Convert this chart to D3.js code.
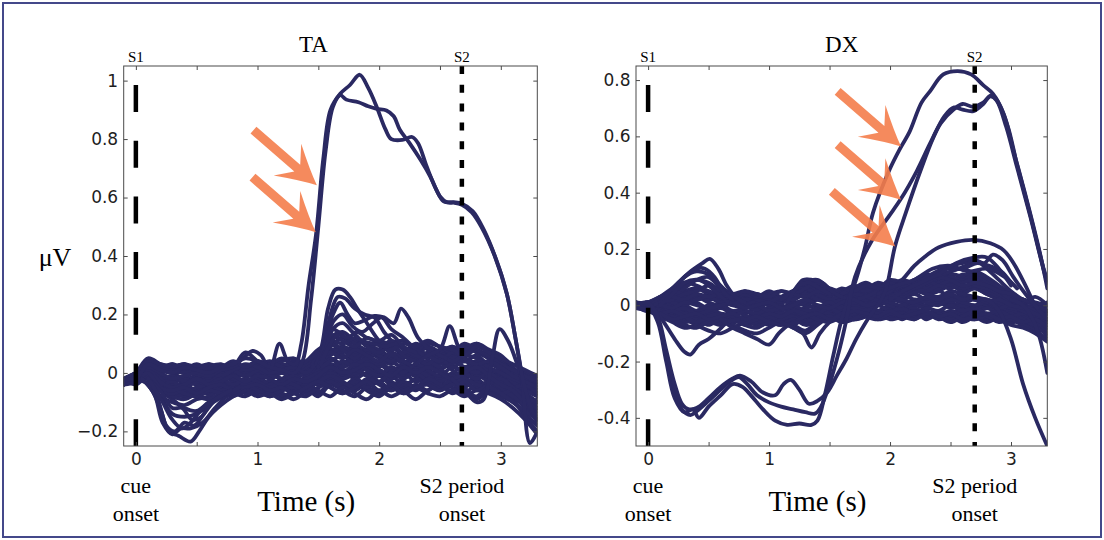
<!DOCTYPE html>
<html>
<head>
<meta charset="utf-8">
<script src="https://cdn.jsdelivr.net/npm/d3@7"></script>
<style>
  html, body { margin: 0; padding: 0; background: #fff; }
  svg { display: block; }
</style>
</head>
<body>
<svg id="fig" width="1104" height="540"></svg>
<script>
// ---------------------------------------------------------------
// Data: single-trial EMG-like traces (µV) against time (s)
// ---------------------------------------------------------------
const timeGrid = [-0.1, 0.0, 0.1, 0.2, 0.3, 0.4, 0.5, 0.6, 0.7, 0.8, 0.9, 1.0, 1.1, 1.2, 1.3, 1.4, 1.5,
  1.6, 1.7, 1.8, 1.9, 2.0, 2.1, 2.2, 2.3, 2.4, 2.5, 2.6, 2.7, 2.8, 2.9, 3.0, 3.1, 3.2, 3.3];

const cueOnset = 0;
const taS2Onset = 2.68;
const dxS2Onset = 2.70;

const xTickValues = [0, 0.5, 1, 1.5, 2, 2.5, 3];
const taYTicks = [-0.2, 0, 0.2, 0.4, 0.6, 0.8, 1];
const dxYTicks = [-0.4, -0.2, 0, 0.2, 0.4, 0.6, 0.8];

// TA: low-amplitude trials sampled on timeGrid
const taBackground = [
  [-0.03, -0.01, 0.04, 0.02, 0.03, 0.01, 0.02, 0.00, 0.01, 0.02, 0.00, -0.01, 0.02, 0.03, 0.01, 0.04, 0.08, 0.10, 0.07, 0.09, 0.06, 0.08, 0.05, 0.07, 0.04, 0.06, 0.03, 0.05, 0.02, 0.04, 0.01, -0.02, -0.05, -0.08, -0.10],
  [-0.02, -0.03, 0.02, -0.02, -0.04, -0.06, -0.05, -0.03, -0.05, -0.04, -0.06, -0.03, -0.05, -0.02, -0.04, -0.01, 0.02, 0.05, 0.03, 0.06, 0.02, 0.04, 0.01, 0.03, 0.06, 0.02, 0.04, 0.01, -0.02, 0.01, -0.03, -0.01, -0.04, -0.06, -0.05],
  [-0.04, -0.02, 0.01, -0.05, -0.07, -0.08, -0.06, -0.07, -0.05, -0.06, -0.04, -0.05, -0.07, -0.04, -0.06, -0.03, 0.00, 0.03, 0.01, -0.02, 0.00, -0.03, -0.01, -0.04, -0.02, 0.00, -0.03, -0.01, -0.04, -0.02, -0.05, -0.03, -0.07, -0.12, -0.15],
  [-0.03, 0.00, 0.05, 0.03, 0.01, 0.02, 0.00, 0.02, 0.03, 0.01, 0.02, 0.03, 0.00, 0.02, 0.04, 0.02, 0.05, 0.12, 0.14, 0.11, 0.10, 0.08, 0.09, 0.06, 0.07, 0.05, 0.08, 0.06, 0.09, 0.07, 0.05, 0.02, -0.01, -0.03, -0.06],
  [-0.02, -0.04, -0.01, -0.08, -0.10, -0.11, -0.09, -0.08, -0.06, -0.07, -0.05, -0.06, -0.04, -0.06, -0.03, -0.05, -0.02, 0.01, -0.01, 0.02, -0.01, 0.01, -0.02, 0.00, -0.03, -0.01, 0.01, -0.02, 0.00, -0.02, 0.01, -0.02, -0.06, -0.09, -0.13],
  [-0.03, -0.01, 0.03, 0.00, -0.02, -0.01, -0.03, -0.01, -0.02, 0.00, -0.01, 0.01, -0.02, 0.00, -0.01, 0.01, 0.04, 0.08, 0.06, 0.04, 0.07, 0.05, 0.03, 0.06, 0.04, 0.07, 0.05, 0.08, 0.04, 0.06, 0.03, 0.05, 0.00, -0.04, -0.07],
  [-0.02, -0.02, 0.00, -0.04, -0.05, -0.03, -0.04, -0.05, -0.03, -0.04, -0.02, -0.04, -0.03, -0.05, -0.02, -0.04, 0.00, -0.02, 0.01, -0.01, 0.02, 0.00, -0.02, 0.01, -0.01, 0.02, 0.00, -0.03, -0.01, 0.01, -0.02, 0.00, -0.03, -0.05, -0.08],
  [-0.04, -0.01, 0.04, 0.01, 0.02, 0.03, 0.01, 0.02, 0.00, 0.02, 0.07, 0.04, 0.01, 0.02, 0.00, 0.03, 0.06, 0.09, 0.12, 0.10, 0.08, 0.11, 0.09, 0.07, 0.10, 0.08, 0.06, 0.09, 0.07, 0.10, 0.08, 0.06, 0.02, -0.02, -0.04],
  [-0.03, -0.03, -0.02, -0.06, -0.09, -0.12, -0.13, -0.10, -0.08, -0.07, -0.08, -0.06, -0.08, -0.07, -0.09, -0.06, -0.03, -0.05, -0.07, -0.04, -0.06, -0.08, -0.05, -0.07, -0.04, -0.06, -0.03, -0.05, -0.07, -0.04, -0.06, -0.08, -0.10, -0.14, -0.18],
  [-0.02, 0.00, 0.03, 0.01, 0.00, -0.02, -0.01, 0.01, 0.00, -0.01, 0.01, 0.00, 0.02, 0.01, 0.03, 0.01, 0.03, 0.05, 0.02, 0.04, 0.01, 0.03, 0.00, 0.02, -0.01, 0.01, -0.02, 0.00, 0.02, -0.01, 0.01, -0.03, -0.02, -0.05, -0.04],
  [-0.03, -0.02, 0.02, -0.03, -0.06, -0.04, -0.06, -0.04, -0.06, -0.03, -0.05, -0.07, -0.05, -0.08, -0.06, -0.04, -0.07, -0.03, -0.05, -0.02, -0.04, -0.01, -0.03, -0.05, -0.02, -0.04, -0.06, -0.03, -0.05, -0.09, -0.06, -0.04, -0.08, -0.11, -0.09],
  [-0.03, 0.00, 0.04, 0.02, 0.00, 0.01, 0.03, 0.01, 0.02, 0.00, 0.01, 0.02, 0.01, 0.03, 0.02, 0.00, 0.03, 0.15, 0.13, 0.08, 0.05, 0.07, 0.04, 0.02, 0.05, 0.03, 0.01, 0.04, 0.02, 0.00, 0.03, 0.01, -0.02, -0.05, -0.03],
  [-0.02, -0.03, 0.01, -0.02, -0.03, -0.05, -0.02, -0.04, -0.01, -0.03, -0.05, -0.02, -0.04, -0.06, -0.03, -0.05, -0.08, -0.04, -0.06, -0.08, -0.05, -0.07, -0.04, -0.06, -0.09, -0.06, -0.04, -0.07, -0.05, -0.03, -0.06, -0.04, -0.07, -0.10, -0.12],
  [-0.04, -0.01, 0.03, 0.00, 0.02, 0.00, 0.02, -0.01, 0.01, -0.01, 0.00, -0.02, 0.00, -0.02, 0.01, -0.01, 0.02, 0.07, 0.09, 0.07, 0.05, 0.08, 0.11, 0.08, 0.06, 0.09, 0.07, 0.05, 0.08, 0.10, 0.07, 0.04, 0.00, -0.02, -0.01],
  [-0.03, -0.02, 0.02, -0.01, -0.02, -0.03, -0.01, -0.02, 0.00, -0.02, 0.00, 0.01, -0.01, 0.00, -0.02, 0.00, -0.01, 0.01, 0.04, 0.02, 0.04, 0.02, 0.05, 0.03, 0.01, 0.03, 0.05, 0.02, 0.04, 0.02, 0.00, -0.01, -0.04, -0.03, -0.06],
  [-0.02, -0.03, -0.01, -0.05, -0.08, -0.09, -0.07, -0.05, -0.06, -0.04, -0.06, -0.05, -0.03, -0.05, -0.07, -0.08, -0.05, -0.02, -0.04, -0.06, -0.03, -0.01, -0.04, -0.02, 0.00, -0.03, -0.05, -0.02, -0.04, -0.01, -0.03, -0.06, -0.09, -0.15, -0.20],
  [-0.03, -0.01, 0.02, 0.03, 0.02, 0.03, 0.02, 0.03, 0.01, 0.03, 0.02, 0.04, 0.02, 0.04, 0.05, 0.03, 0.05, 0.06, 0.09, 0.06, 0.08, 0.06, 0.04, 0.06, 0.08, 0.05, 0.07, 0.09, 0.06, 0.08, 0.05, 0.03, 0.01, 0.00, -0.02],
  [-0.02, -0.02, 0.00, -0.03, -0.04, -0.06, -0.08, -0.06, -0.04, -0.05, -0.03, -0.04, -0.06, -0.04, -0.02, -0.04, -0.02, 0.00, -0.02, 0.00, 0.02, -0.01, 0.01, -0.01, 0.01, 0.03, 0.01, -0.01, 0.01, 0.03, 0.00, -0.02, -0.05, -0.07, -0.10],
  [-0.03, 0.00, 0.03, -0.01, -0.03, -0.02, -0.04, -0.02, -0.03, -0.05, -0.03, -0.02, -0.04, -0.03, -0.01, -0.03, 0.01, 0.04, 0.06, 0.03, 0.05, 0.03, 0.06, 0.04, 0.02, 0.04, 0.02, 0.03, 0.05, 0.03, 0.01, 0.00, -0.03, -0.06, -0.08],
  [-0.02, -0.01, 0.01, -0.04, -0.06, -0.07, -0.05, -0.04, -0.06, -0.05, -0.07, -0.06, -0.04, -0.03, -0.05, -0.02, -0.04, 0.00, -0.02, 0.01, -0.01, -0.03, 0.00, -0.02, 0.01, -0.01, -0.03, -0.01, -0.03, -0.05, -0.03, -0.05, -0.08, -0.11, -0.14],
  [-0.04, -0.02, 0.03, 0.02, 0.00, 0.01, -0.01, 0.00, 0.02, 0.01, -0.01, 0.01, 0.03, 0.01, 0.00, 0.02, 0.05, 0.10, 0.08, 0.05, 0.08, 0.06, 0.04, 0.07, 0.05, 0.03, 0.06, 0.04, 0.06, 0.05, 0.02, 0.00, -0.02, -0.04, -0.07],
  [-0.03, -0.03, -0.01, -0.06, -0.07, -0.06, -0.08, -0.09, -0.07, -0.06, -0.04, -0.06, -0.08, -0.06, -0.05, -0.07, -0.05, -0.03, -0.05, -0.03, -0.05, -0.03, -0.06, -0.04, -0.06, -0.03, -0.05, -0.04, -0.02, -0.04, -0.05, -0.07, -0.06, -0.09, -0.11],
  [-0.02, 0.00, 0.02, 0.01, 0.03, 0.01, 0.00, 0.02, 0.01, 0.03, 0.01, 0.02, 0.04, 0.02, 0.01, 0.03, 0.06, 0.11, 0.10, 0.12, 0.09, 0.07, 0.10, 0.11, 0.08, 0.10, 0.09, 0.07, 0.10, 0.08, 0.06, 0.03, 0.01, -0.01, -0.03],
  [-0.03, -0.02, 0.00, -0.02, -0.01, -0.03, -0.02, -0.03, -0.01, -0.02, -0.04, -0.03, -0.01, -0.02, -0.04, -0.02, 0.00, 0.02, 0.00, 0.03, 0.01, -0.01, 0.02, 0.00, 0.03, 0.01, -0.01, 0.02, 0.00, -0.02, 0.00, -0.03, -0.05, -0.04, -0.07],
  [-0.04, -0.01, 0.02, -0.02, -0.05, -0.07, -0.08, -0.06, -0.07, -0.08, -0.06, -0.08, -0.07, -0.09, -0.07, -0.05, -0.06, -0.08, -0.05, -0.07, -0.09, -0.06, -0.08, -0.06, -0.05, -0.07, -0.08, -0.06, -0.08, -0.06, -0.07, -0.09, -0.12, -0.16, -0.21],
  [-0.02, -0.01, 0.03, 0.02, 0.01, 0.00, 0.01, 0.00, -0.01, 0.01, 0.03, 0.02, 0.00, 0.01, 0.02, 0.00, 0.04, 0.07, 0.05, 0.08, 0.06, 0.04, 0.07, 0.05, 0.08, 0.06, 0.04, 0.07, 0.05, 0.03, 0.04, 0.02, -0.01, -0.03, -0.05],
  [-0.03, -0.02, -0.01, -0.04, -0.03, -0.05, -0.03, -0.04, -0.02, -0.04, -0.02, -0.03, -0.05, -0.03, -0.04, -0.06, -0.03, -0.01, -0.03, -0.05, -0.02, -0.04, -0.06, -0.03, -0.05, -0.02, -0.04, -0.06, -0.03, -0.06, -0.04, -0.02, -0.05, -0.08, -0.10],
  [-0.02, 0.00, 0.04, 0.03, 0.02, 0.03, 0.01, 0.03, 0.02, 0.04, 0.02, 0.04, 0.03, 0.05, 0.03, 0.04, 0.07, 0.13, 0.11, 0.09, 0.12, 0.10, 0.08, 0.10, 0.09, 0.11, 0.09, 0.08, 0.06, 0.09, 0.07, 0.05, 0.03, 0.01, -0.01],
  [-0.03, -0.02, 0.01, -0.03, -0.05, -0.04, -0.02, -0.04, -0.03, -0.01, -0.03, -0.01, -0.02, -0.04, -0.02, -0.03, -0.01, 0.02, 0.00, 0.01, 0.03, 0.01, -0.01, 0.02, 0.00, 0.02, 0.00, -0.02, 0.00, 0.02, -0.01, -0.04, -0.06, -0.10, -0.12],
  [-0.04, -0.03, 0.00, -0.05, -0.06, -0.05, -0.07, -0.05, -0.04, -0.06, -0.05, -0.04, -0.06, -0.05, -0.07, -0.05, -0.03, -0.05, -0.07, -0.05, -0.03, -0.06, -0.04, -0.07, -0.05, -0.04, -0.06, -0.04, -0.06, -0.08, -0.05, -0.07, -0.10, -0.13, -0.16]
];

// TA: early negative deflections, [time, µV]
const taEarlyDips = [
  [[0.0, -0.02], [0.1, -0.04], [0.2, -0.12], [0.27, -0.2], [0.35, -0.215], [0.45, -0.235], [0.52, -0.2], [0.6, -0.15], [0.7, -0.11], [0.8, -0.08], [0.9, -0.06]],
  [[0.05, -0.02], [0.15, -0.07], [0.22, -0.17], [0.3, -0.21], [0.37, -0.19], [0.45, -0.19], [0.55, -0.17], [0.65, -0.12], [0.75, -0.08], [0.85, -0.06]],
  [[0.08, -0.03], [0.18, -0.09], [0.25, -0.18], [0.32, -0.2], [0.4, -0.17], [0.48, -0.18], [0.56, -0.14], [0.66, -0.09], [0.8, -0.06]],
  [[0.1, -0.03], [0.2, -0.08], [0.3, -0.14], [0.4, -0.15], [0.5, -0.14], [0.6, -0.11], [0.72, -0.08], [0.85, -0.05]],
  [[0.1, -0.02], [0.2, -0.06], [0.3, -0.12], [0.38, -0.12], [0.46, -0.16], [0.54, -0.15], [0.62, -0.1], [0.75, -0.07]],
  [[0.12, -0.03], [0.22, -0.1], [0.3, -0.16], [0.38, -0.19], [0.45, -0.17], [0.55, -0.12], [0.65, -0.09], [0.78, -0.06]]
];

// TA: moderate responses after 1.5 s, [time, µV]
const taModerate = [
  [[1.45, 0.03], [1.52, 0.08], [1.58, 0.22], [1.64, 0.285], [1.7, 0.285], [1.76, 0.26], [1.82, 0.22], [1.9, 0.17], [1.98, 0.12], [2.06, 0.08], [2.15, 0.05], [2.25, 0.03]],
  [[1.45, 0.02], [1.53, 0.06], [1.6, 0.2], [1.66, 0.26], [1.72, 0.255], [1.8, 0.22], [1.88, 0.2], [1.96, 0.19], [2.04, 0.14], [2.12, 0.10], [2.2, 0.06], [2.3, 0.04]],
  [[1.48, 0.03], [1.55, 0.1], [1.62, 0.2], [1.68, 0.24], [1.74, 0.2], [1.8, 0.17], [1.88, 0.18], [1.96, 0.195], [2.04, 0.19], [2.12, 0.17], [2.18, 0.22], [2.24, 0.19], [2.32, 0.12], [2.42, 0.08], [2.55, 0.05]],
  [[1.5, 0.02], [1.57, 0.12], [1.63, 0.18], [1.7, 0.2], [1.78, 0.16], [1.86, 0.14], [1.95, 0.17], [2.02, 0.19], [2.1, 0.15], [2.2, 0.12], [2.3, 0.08], [2.4, 0.05]],
  [[1.5, 0.02], [1.56, 0.08], [1.62, 0.15], [1.7, 0.17], [1.78, 0.14], [1.86, 0.11], [1.95, 0.1], [2.05, 0.09], [2.15, 0.1], [2.25, 0.07], [2.35, 0.05]],
  [[1.52, 0.03], [1.6, 0.1], [1.66, 0.13], [1.74, 0.12], [1.82, 0.14], [1.9, 0.12], [2.0, 0.11], [2.1, 0.13], [2.2, 0.09], [2.3, 0.07]],
  [[2.3, 0.03], [2.4, 0.06], [2.5, 0.08], [2.58, 0.16], [2.65, 0.09], [2.72, 0.04], [2.8, 0.03]],
  [[2.6, -0.02], [2.7, -0.06], [2.8, -0.1], [2.86, -0.09], [2.93, 0.05], [2.99, 0.15], [3.06, 0.11], [3.15, 0.01], [3.22, -0.1], [3.3, -0.17]]
];

// TA: the two large responses, [time, µV]
const taLarge = [
  [[-0.1, -0.03], [0.0, -0.01], [0.1, 0.02], [0.2, 0.00], [0.3, -0.02], [0.4, -0.01], [0.5, 0.00], [0.6, -0.01],
   [0.7, 0.01], [0.8, 0.02], [0.88, 0.05], [0.96, 0.075], [1.03, 0.06], [1.1, 0.01], [1.18, 0.1], [1.25, 0.04],
   [1.31, 0.03], [1.36, 0.1], [1.42, 0.3], [1.48, 0.47], [1.54, 0.73], [1.6, 0.9], [1.68, 0.955], [1.76, 0.985],
   [1.84, 1.02], [1.91, 0.975], [1.98, 0.91], [2.05, 0.835], [2.1, 0.80], [2.19, 0.797], [2.27, 0.807], [2.32, 0.786],
   [2.39, 0.707], [2.47, 0.627], [2.53, 0.587], [2.61, 0.584], [2.68, 0.579], [2.77, 0.553], [2.86, 0.49], [2.96, 0.39],
   [3.05, 0.27], [3.12, 0.12], [3.17, 0.0], [3.24, -0.24], [3.3, -0.2]],
  [[-0.1, -0.02], [0.0, -0.02], [0.1, 0.03], [0.2, 0.01], [0.3, 0.00], [0.4, 0.02], [0.5, 0.01], [0.6, 0.00],
   [0.7, 0.02], [0.8, 0.03], [0.9, 0.05], [1.0, 0.04], [1.1, 0.02], [1.2, 0.01], [1.3, 0.00], [1.37, 0.04],
   [1.44, 0.25], [1.5, 0.5], [1.56, 0.76], [1.62, 0.91], [1.68, 0.95], [1.73, 0.935], [1.83, 0.926], [1.91, 0.912],
   [1.98, 0.903], [2.06, 0.898], [2.12, 0.878], [2.17, 0.832], [2.25, 0.786], [2.34, 0.729], [2.42, 0.672], [2.5, 0.604],
   [2.56, 0.583], [2.62, 0.582], [2.68, 0.575], [2.76, 0.55], [2.84, 0.5], [2.95, 0.40], [3.05, 0.27], [3.12, 0.12],
   [3.18, -0.02], [3.25, -0.12], [3.3, -0.16]]
];

// DX: low-amplitude trials sampled on timeGrid
const dxBackground = [
  [0.00, -0.02, 0.03, 0.02, 0.04, 0.02, 0.03, 0.01, 0.03, 0.02, 0.00, 0.02, 0.01, 0.03, 0.05, 0.03, 0.01, 0.03, 0.05, 0.07, 0.05, 0.08, 0.06, 0.09, 0.07, 0.10, 0.08, 0.11, 0.09, 0.07, 0.05, 0.02, -0.01, -0.03, -0.02],
  [0.01, -0.01, -0.03, -0.05, -0.04, -0.06, -0.05, -0.03, -0.05, -0.04, -0.06, -0.04, -0.05, -0.03, -0.05, -0.04, -0.02, -0.04, -0.02, 0.00, -0.02, -0.01, -0.03, -0.02, -0.04, -0.02, -0.03, -0.01, -0.03, -0.05, -0.03, -0.05, -0.07, -0.09, -0.08],
  [-0.01, 0.01, 0.02, 0.04, 0.07, 0.09, 0.08, 0.05, 0.03, 0.02, 0.01, 0.03, 0.02, 0.04, 0.07, 0.06, 0.03, 0.02, 0.04, 0.03, 0.05, 0.04, 0.06, 0.05, 0.07, 0.09, 0.08, 0.10, 0.12, 0.10, 0.07, 0.04, 0.01, -0.02, -0.05],
  [0.00, -0.02, -0.04, -0.06, -0.08, -0.07, -0.05, -0.06, -0.04, -0.05, -0.07, -0.05, -0.06, -0.04, -0.06, -0.05, -0.03, -0.05, -0.04, -0.03, -0.05, -0.04, -0.02, -0.04, -0.03, -0.05, -0.04, -0.06, -0.04, -0.03, -0.05, -0.04, -0.06, -0.08, -0.10],
  [0.01, 0.00, 0.01, 0.03, 0.05, 0.06, 0.04, 0.02, 0.01, 0.03, 0.02, 0.00, 0.02, 0.04, 0.08, 0.09, 0.06, 0.05, 0.07, 0.06, 0.08, 0.07, 0.09, 0.08, 0.10, 0.09, 0.11, 0.10, 0.08, 0.06, 0.04, 0.02, 0.00, -0.01, 0.01],
  [-0.01, -0.01, -0.02, -0.03, -0.05, -0.07, -0.09, -0.10, -0.08, -0.06, -0.04, -0.06, -0.05, -0.07, -0.09, -0.06, -0.04, -0.02, -0.03, -0.01, -0.02, 0.00, -0.01, 0.01, 0.00, 0.02, 0.00, 0.01, -0.01, 0.00, -0.02, -0.04, -0.06, -0.05, -0.07],
  [0.00, 0.01, 0.00, 0.01, 0.03, 0.02, 0.04, 0.02, 0.00, 0.01, 0.02, 0.01, 0.03, 0.01, 0.02, 0.04, 0.06, 0.04, 0.02, 0.04, 0.03, 0.05, 0.03, 0.06, 0.04, 0.05, 0.07, 0.05, 0.06, 0.04, 0.02, 0.00, -0.02, -0.01, -0.03],
  [0.01, -0.02, -0.01, -0.02, -0.01, -0.03, -0.02, -0.04, -0.02, -0.03, -0.01, -0.03, -0.02, -0.01, -0.03, -0.02, 0.00, -0.02, 0.00, 0.02, 0.01, 0.03, 0.02, 0.04, 0.02, 0.03, 0.01, 0.03, 0.02, 0.00, 0.01, -0.01, -0.03, -0.05, -0.04],
  [0.00, 0.00, 0.02, 0.05, 0.10, 0.12, 0.11, 0.07, 0.03, 0.01, 0.02, 0.00, 0.01, 0.02, 0.05, 0.07, 0.05, 0.03, 0.05, 0.04, 0.06, 0.08, 0.07, 0.09, 0.11, 0.10, 0.12, 0.13, 0.11, 0.08, 0.06, 0.03, 0.00, -0.02, -0.03],
  [-0.01, 0.01, -0.02, -0.04, -0.06, -0.04, -0.03, -0.05, -0.07, -0.09, -0.10, -0.08, -0.06, -0.08, -0.10, -0.07, -0.04, -0.03, -0.05, -0.04, -0.02, -0.04, -0.03, -0.05, -0.03, -0.04, -0.02, -0.04, -0.05, -0.03, -0.04, -0.06, -0.04, -0.07, -0.06],
  [0.00, -0.01, 0.01, 0.00, 0.02, 0.01, -0.01, 0.01, 0.00, -0.01, 0.01, 0.00, -0.01, 0.01, 0.00, 0.02, 0.01, 0.00, 0.02, 0.01, 0.03, 0.01, 0.04, 0.02, 0.03, 0.05, 0.03, 0.04, 0.06, 0.04, 0.02, 0.00, -0.03, -0.06, -0.11],
  [0.01, 0.00, -0.01, -0.03, -0.02, -0.04, -0.03, -0.01, -0.03, -0.02, -0.04, -0.02, -0.03, -0.05, -0.03, -0.01, -0.02, 0.00, -0.01, 0.01, 0.00, 0.02, 0.01, 0.00, 0.02, 0.01, 0.03, 0.01, 0.02, 0.00, -0.02, -0.01, -0.03, -0.02, -0.05],
  [0.00, 0.01, 0.03, 0.06, 0.08, 0.07, 0.05, 0.04, 0.02, 0.04, 0.03, 0.05, 0.03, 0.05, 0.09, 0.08, 0.05, 0.04, 0.06, 0.08, 0.06, 0.09, 0.08, 0.06, 0.08, 0.12, 0.14, 0.15, 0.16, 0.13, 0.09, 0.05, 0.02, 0.00, -0.02],
  [-0.01, -0.02, -0.03, -0.02, -0.04, -0.03, -0.05, -0.04, -0.06, -0.05, -0.03, -0.05, -0.04, -0.06, -0.05, -0.03, -0.05, -0.03, -0.04, -0.02, -0.04, -0.03, -0.05, -0.03, -0.04, -0.02, -0.04, -0.05, -0.03, -0.05, -0.04, -0.06, -0.05, -0.04, -0.06],
  [0.00, 0.00, 0.01, 0.02, 0.01, 0.03, 0.01, 0.00, 0.02, 0.01, -0.01, 0.01, 0.02, 0.00, 0.01, 0.03, 0.02, 0.01, 0.03, 0.05, 0.04, 0.06, 0.05, 0.07, 0.05, 0.06, 0.08, 0.06, 0.07, 0.05, 0.03, 0.01, 0.02, 0.00, -0.01],
  [0.01, -0.01, -0.02, -0.01, 0.00, -0.02, 0.00, -0.01, 0.01, 0.00, -0.02, -0.01, 0.00, -0.02, -0.01, 0.00, -0.01, 0.01, 0.00, -0.01, 0.01, 0.00, -0.02, 0.00, -0.01, 0.01, -0.01, 0.00, -0.02, -0.01, 0.00, -0.02, -0.01, -0.03, -0.02],
  [0.00, 0.01, 0.02, 0.03, 0.06, 0.09, 0.10, 0.06, 0.02, 0.00, 0.02, 0.04, 0.02, 0.03, 0.06, 0.05, 0.02, 0.01, 0.03, 0.02, 0.04, 0.03, 0.05, 0.07, 0.06, 0.08, 0.10, 0.09, 0.11, 0.09, 0.06, 0.03, 0.01, 0.03, 0.00],
  [-0.01, 0.00, -0.02, -0.04, -0.03, -0.05, -0.04, -0.06, -0.05, -0.07, -0.06, -0.04, -0.06, -0.07, -0.04, -0.02, -0.03, -0.05, -0.03, -0.02, -0.04, -0.02, -0.03, -0.01, -0.03, -0.02, -0.04, -0.02, -0.03, -0.01, -0.03, -0.02, -0.04, -0.06, -0.09],
  [0.00, 0.00, -0.01, 0.01, 0.03, 0.04, 0.02, 0.03, 0.01, 0.02, 0.04, 0.02, 0.03, 0.05, 0.04, 0.02, 0.03, 0.05, 0.04, 0.06, 0.07, 0.05, 0.07, 0.08, 0.06, 0.08, 0.07, 0.09, 0.07, 0.06, 0.04, 0.01, -0.01, 0.00, -0.02],
  [0.01, -0.01, -0.03, -0.04, -0.06, -0.05, -0.07, -0.05, -0.06, -0.04, -0.05, -0.07, -0.05, -0.04, -0.06, -0.04, -0.05, -0.03, -0.05, -0.04, -0.03, -0.05, -0.04, -0.02, -0.04, -0.03, -0.05, -0.03, -0.04, -0.06, -0.04, -0.03, -0.05, -0.07, -0.06],
  [-0.01, 0.01, 0.03, 0.05, 0.04, 0.06, 0.05, 0.03, 0.04, 0.02, 0.03, 0.04, 0.02, 0.05, 0.06, 0.04, 0.02, 0.04, 0.06, 0.05, 0.07, 0.06, 0.08, 0.07, 0.09, 0.07, 0.09, 0.08, 0.10, 0.08, 0.05, 0.03, 0.02, 0.00, -0.02],
  [0.00, -0.02, -0.02, -0.01, -0.03, -0.02, -0.01, -0.03, -0.04, -0.02, -0.03, -0.01, -0.03, -0.02, -0.04, -0.03, -0.01, -0.03, -0.01, -0.02, 0.00, -0.02, -0.01, -0.03, -0.01, -0.02, 0.00, -0.02, -0.01, -0.03, -0.02, -0.04, -0.03, -0.05, -0.07],
  [0.01, 0.00, 0.02, 0.01, 0.00, 0.02, 0.03, 0.01, 0.02, 0.04, 0.02, 0.01, 0.03, 0.02, 0.04, 0.02, 0.01, 0.02, 0.04, 0.03, 0.02, 0.04, 0.03, 0.05, 0.04, 0.03, 0.05, 0.04, 0.03, 0.02, 0.01, -0.01, -0.02, -0.04, -0.03],
  [0.00, -0.01, -0.02, -0.05, -0.07, -0.08, -0.06, -0.07, -0.05, -0.07, -0.08, -0.06, -0.07, -0.05, -0.07, -0.06, -0.04, -0.06, -0.05, -0.03, -0.04, -0.03, -0.04, -0.02, -0.05, -0.03, -0.05, -0.04, -0.05, -0.04, -0.06, -0.05, -0.07, -0.09, -0.12],
  [-0.01, 0.00, 0.01, 0.02, 0.04, 0.05, 0.07, 0.05, 0.04, 0.05, 0.03, 0.04, 0.05, 0.04, 0.06, 0.08, 0.05, 0.03, 0.02, 0.03, 0.05, 0.06, 0.04, 0.06, 0.05, 0.07, 0.06, 0.08, 0.09, 0.07, 0.05, 0.02, 0.00, -0.02, -0.04],
  [0.00, 0.01, 0.00, -0.02, -0.01, -0.03, -0.02, 0.00, -0.02, -0.01, 0.00, -0.02, -0.01, 0.00, -0.02, -0.01, 0.01, -0.01, 0.01, 0.00, 0.02, 0.01, 0.00, 0.02, 0.01, 0.00, 0.02, 0.01, 0.00, 0.01, -0.01, 0.00, -0.02, -0.04, -0.03],
  [0.01, -0.01, -0.03, -0.02, -0.04, -0.06, -0.04, -0.03, -0.04, -0.06, -0.05, -0.03, -0.04, -0.02, -0.03, -0.05, -0.06, -0.04, -0.02, -0.04, -0.05, -0.03, -0.04, -0.05, -0.03, -0.04, -0.06, -0.04, -0.02, -0.04, -0.05, -0.07, -0.08, -0.10, -0.13],
  [0.00, 0.00, 0.02, 0.03, 0.02, 0.04, 0.03, 0.04, 0.03, 0.05, 0.04, 0.03, 0.05, 0.04, 0.03, 0.05, 0.04, 0.06, 0.05, 0.07, 0.06, 0.05, 0.07, 0.06, 0.08, 0.10, 0.09, 0.07, 0.08, 0.07, 0.05, 0.04, 0.02, 0.01, 0.00],
  [-0.01, -0.01, 0.00, -0.01, 0.01, 0.00, -0.01, 0.00, 0.01, -0.01, 0.00, 0.01, -0.01, 0.00, 0.02, 0.00, -0.01, 0.01, 0.02, 0.00, 0.01, 0.03, 0.02, 0.01, 0.03, 0.02, 0.04, 0.02, 0.03, 0.01, 0.02, 0.00, -0.01, -0.03, -0.05],
  [0.00, -0.02, -0.03, -0.05, -0.04, -0.03, -0.05, -0.04, -0.03, -0.05, -0.04, -0.06, -0.07, -0.06, -0.04, -0.03, -0.05, -0.04, -0.02, -0.03, -0.04, -0.02, -0.04, -0.03, -0.02, -0.04, -0.03, -0.05, -0.04, -0.03, -0.05, -0.04, -0.06, -0.05, -0.08]
];

// DX: small early/late deflections, [time, µV]
const dxDeflections = [
  [[0.05, 0.0], [0.15, 0.03], [0.25, 0.08], [0.35, 0.12], [0.45, 0.15], [0.51, 0.165], [0.58, 0.13], [0.65, 0.07], [0.72, 0.03], [0.8, 0.01]],
  [[0.1, 0.01], [0.2, 0.06], [0.3, 0.10], [0.4, 0.13], [0.47, 0.13], [0.55, 0.1], [0.62, 0.05], [0.7, 0.02]],
  [[0.1, 0.0], [0.2, 0.04], [0.3, 0.08], [0.42, 0.09], [0.5, 0.07], [0.58, 0.04], [0.66, 0.01]],
  [[0.05, -0.01], [0.13, -0.06], [0.22, -0.12], [0.3, -0.165], [0.35, -0.175], [0.42, -0.14], [0.5, -0.12], [0.58, -0.09], [0.66, -0.06], [0.75, -0.05]],
  [[0.6, -0.05], [0.7, -0.08], [0.8, -0.1], [0.9, -0.12], [1.0, -0.14], [1.08, -0.1], [1.16, -0.07], [1.24, -0.06]],
  [[1.1, -0.06], [1.2, -0.08], [1.28, -0.1], [1.35, -0.15], [1.42, -0.1], [1.5, -0.06], [1.6, -0.03]],
  [[1.1, 0.02], [1.2, 0.05], [1.28, 0.09], [1.36, 0.09], [1.44, 0.08], [1.52, 0.05], [1.6, 0.03]],
  [[1.15, 0.01], [1.25, 0.07], [1.33, 0.08], [1.42, 0.06], [1.5, 0.04]],
  [[1.9, 0.03], [2.0, 0.05], [2.1, 0.09], [2.2, 0.14], [2.28, 0.17], [2.4, 0.205], [2.55, 0.225], [2.69, 0.232], [2.83, 0.22], [2.94, 0.195], [3.02, 0.15], [3.12, 0.07], [3.2, 0.0], [3.3, -0.05]],
  [[2.0, 0.03], [2.2, 0.07], [2.35, 0.1], [2.5, 0.12], [2.62, 0.14], [2.7, 0.16], [2.78, 0.15], [2.85, 0.18], [2.93, 0.16], [3.02, 0.1], [3.12, 0.04], [3.22, -0.01]],
  [[2.0, 0.02], [2.15, 0.06], [2.3, 0.1], [2.45, 0.13], [2.6, 0.13], [2.72, 0.15], [2.82, 0.14], [2.92, 0.12], [3.0, 0.08]],
  [[1.9, 0.04], [2.05, 0.07], [2.2, 0.09], [2.35, 0.13], [2.5, 0.14], [2.65, 0.12], [2.8, 0.13], [2.95, 0.1], [3.05, 0.06]],
  [[2.1, 0.05], [2.25, 0.08], [2.4, 0.11], [2.55, 0.15], [2.7, 0.17], [2.8, 0.17], [2.9, 0.13], [3.0, 0.07]],
  [[2.7, 0.02], [2.8, 0.02], [2.9, -0.02], [3.0, -0.12], [3.1, -0.28], [3.2, -0.4], [3.3, -0.5]],
  [[3.0, 0.02], [3.1, 0.0], [3.18, -0.05], [3.24, -0.12], [3.3, -0.24]]
];

// DX: the three large responses (early suppression, late burst), [time, µV]
const dxLarge = [
  [[-0.1, 0.0], [0.0, 0.0], [0.08, -0.06], [0.15, -0.2], [0.22, -0.33], [0.3, -0.38], [0.37, -0.37], [0.42, -0.40],
   [0.5, -0.36], [0.6, -0.32], [0.7, -0.28], [0.78, -0.29], [0.85, -0.32], [0.95, -0.37], [1.05, -0.41], [1.15, -0.425],
   [1.25, -0.42], [1.35, -0.425], [1.4, -0.41], [1.46, -0.32], [1.53, -0.18], [1.6, -0.05], [1.66, 0.03], [1.71, 0.08],
   [1.79, 0.2], [1.86, 0.33], [1.99, 0.476], [2.09, 0.562], [2.16, 0.615], [2.26, 0.72], [2.33, 0.76], [2.44, 0.82],
   [2.56, 0.832], [2.67, 0.82], [2.77, 0.782], [2.85, 0.752], [2.94, 0.68], [3.02, 0.55], [3.13, 0.374], [3.24, 0.184], [3.3, 0.06]],
  [[-0.1, 0.01], [0.0, 0.0], [0.08, -0.05], [0.15, -0.18], [0.22, -0.3], [0.28, -0.37], [0.35, -0.39], [0.42, -0.37],
   [0.5, -0.34], [0.6, -0.3], [0.68, -0.27], [0.75, -0.255], [0.82, -0.28], [0.9, -0.32], [1.0, -0.345], [1.1, -0.36],
   [1.2, -0.37], [1.3, -0.38], [1.38, -0.385], [1.43, -0.36], [1.5, -0.28], [1.58, -0.16], [1.64, -0.05], [1.71, 0.1],
   [1.85, 0.23], [1.99, 0.316], [2.09, 0.378], [2.22, 0.476], [2.33, 0.574], [2.42, 0.647], [2.53, 0.697], [2.6, 0.715],
   [2.69, 0.705], [2.77, 0.72], [2.83, 0.742], [2.88, 0.728], [2.96, 0.634], [3.05, 0.49], [3.16, 0.314], [3.27, 0.125], [3.3, 0.08]],
  [[-0.1, 0.0], [0.0, 0.01], [0.08, -0.04], [0.15, -0.16], [0.22, -0.28], [0.28, -0.35], [0.34, -0.37], [0.42, -0.36],
   [0.5, -0.33], [0.6, -0.29], [0.7, -0.26], [0.76, -0.25], [0.85, -0.27], [0.95, -0.31], [1.05, -0.32], [1.12, -0.28],
   [1.18, -0.265], [1.25, -0.3], [1.33, -0.35], [1.4, -0.34], [1.48, -0.31], [1.56, -0.25], [1.64, -0.19], [1.72, -0.12],
   [1.8, -0.06], [1.88, -0.01], [1.94, 0.03], [1.98, 0.08], [2.04, 0.208], [2.13, 0.328], [2.25, 0.476], [2.36, 0.598],
   [2.45, 0.672], [2.53, 0.703], [2.6, 0.695], [2.69, 0.69], [2.77, 0.715], [2.83, 0.745], [2.88, 0.73], [2.97, 0.64],
   [3.05, 0.5], [3.16, 0.32], [3.27, 0.13], [3.3, 0.09]]
];

// Arrow tips marking the large responses, [time, µV]
const taArrowTips = [[1.488, 0.642], [1.480, 0.481]];
const dxArrowTips = [[2.091, 0.564], [2.091, 0.375], [2.043, 0.209]];

// ---------------------------------------------------------------
// Drawing
// ---------------------------------------------------------------
const traceColor = '#2a2962';
const arrowColor = '#f47d4b';
const serif = '"Liberation Serif", "Times New Roman", serif';
const sans = '"DejaVu Sans", sans-serif';
const plotTop = 66, plotBottom = 446;

const svg = d3.select('#fig');
svg.append('rect').attr('width', 1104).attr('height', 540).attr('fill', '#fff');
svg.append('rect')
  .attr('x', 3).attr('y', 3).attr('width', 1098).attr('height', 534)
  .attr('fill', 'none').attr('stroke', '#44488a').attr('stroke-width', 2);

const panels = [
  {
    id: 'ta', title: 'TA', titleShift: -17, left: 123.7, right: 537.3,
    xDomain: [-0.1, 3.3], yDomain: [-0.25, 1.05], yTicks: taYTicks, minus: '\u2212',
    s2: taS2Onset, background: taBackground,
    traces: [...taEarlyDips, ...taModerate, ...taLarge], arrows: taArrowTips, unitLabel: true
  },
  {
    id: 'dx', title: 'DX', titleShift: 0, left: 636, right: 1047.3,
    xDomain: [-0.1, 3.3], yDomain: [-0.5, 0.85], yTicks: dxYTicks, minus: '-',
    s2: dxS2Onset, background: dxBackground,
    traces: [...dxDeflections, ...dxLarge], arrows: dxArrowTips, unitLabel: false
  }
];

// Swept arrow pointing along +x with its tip at the origin
const arrowShape = 'M -84,-4.5 L -26,-4.5 L -39,-21 Q -14,-6 0,0 Q -14,6 -39,21 L -26,4.5 L -84,4.5 Z';

panels.forEach(p => {
  const x = d3.scaleLinear().domain(p.xDomain).range([p.left, p.right]);
  const y = d3.scaleLinear().domain(p.yDomain).range([plotBottom, plotTop]);

  const clipId = 'clip-' + p.id;
  svg.append('clipPath').attr('id', clipId).append('rect')
    .attr('x', p.left).attr('y', plotTop)
    .attr('width', p.right - p.left).attr('height', plotBottom - plotTop);

  const line = d3.line()
    .x(d => x(d[0])).y(d => y(d[1]))
    .curve(d3.curveCatmullRom.alpha(0.5));

  const series = p.background.map(vals => timeGrid.map((t, i) => [t, vals[i]])).concat(p.traces);

  const plot = svg.append('g').attr('clip-path', `url(#${clipId})`);
  plot.selectAll('path.trace').data(series).join('path')
    .attr('class', 'trace')
    .attr('d', line)
    .attr('fill', 'none')
    .attr('stroke', traceColor)
    .attr('stroke-width', 3.8)
    .attr('stroke-linejoin', 'round')
    .attr('stroke-linecap', 'round');

  // cue onset (S1) and S2 period onset markers
  plot.append('line')
    .attr('x1', x(cueOnset)).attr('x2', x(cueOnset))
    .attr('y1', y(p.yDomain[1])).attr('y2', y(p.yDomain[0]))
    .attr('stroke', '#000').attr('stroke-width', 4.5)
    .attr('stroke-dasharray', '27,28.7').attr('stroke-dashoffset', 36.7);
  plot.append('line')
    .attr('x1', x(p.s2)).attr('x2', x(p.s2))
    .attr('y1', y(p.yDomain[1])).attr('y2', y(p.yDomain[0]))
    .attr('stroke', '#000').attr('stroke-width', 4.5)
    .attr('stroke-dasharray', '8,10.8');

  // arrows
  svg.append('g').selectAll('path.arrow').data(p.arrows).join('path')
    .attr('class', 'arrow')
    .attr('d', arrowShape)
    .attr('transform', d => `translate(${x(d[0])},${y(d[1])}) rotate(41)`)
    .attr('fill', arrowColor)
    .attr('fill-opacity', 0.9);

  // axes box with inward ticks on all sides
  const axes = svg.append('g').attr('class', 'axes');
  const fmt = d => (d < 0 ? p.minus : '') + String(Math.abs(d));
  axes.append('g').attr('transform', `translate(0,${plotBottom})`)
    .call(d3.axisBottom(x).tickValues(xTickValues).tickSize(-4).tickPadding(7)
      .tickFormat(d => Number.isInteger(d) ? String(d) : ''));
  axes.append('g').attr('transform', `translate(0,${plotTop})`)
    .call(d3.axisTop(x).tickValues(xTickValues).tickSize(-4).tickFormat(() => ''));
  axes.append('g').attr('transform', `translate(${p.left},0)`)
    .call(d3.axisLeft(y).tickValues(p.yTicks).tickSize(-4).tickPadding(5.5).tickFormat(fmt));
  axes.append('g').attr('transform', `translate(${p.right},0)`)
    .call(d3.axisRight(y).tickValues(p.yTicks).tickSize(-4).tickFormat(() => ''));
  axes.selectAll('.domain').remove();
  axes.selectAll('.tick line').attr('stroke', '#4a4a4a').attr('stroke-width', 1);
  axes.selectAll('.tick text')
    .attr('fill', '#1e1e1e').style('font-family', sans).style('font-size', '17px');
  axes.append('rect')
    .attr('x', p.left).attr('y', plotTop)
    .attr('width', p.right - p.left).attr('height', plotBottom - plotTop)
    .attr('fill', 'none').attr('stroke', '#4a4a4a').attr('stroke-width', 1);

  // texts
  const mid = (p.left + p.right) / 2;
  svg.append('text').text(p.title)
    .attr('x', mid + p.titleShift).attr('y', 52).attr('text-anchor', 'middle')
    .style('font-family', serif).style('font-size', '23px').attr('fill', '#000');
  svg.append('text').text('S1')
    .attr('x', x(cueOnset)).attr('y', 62).attr('text-anchor', 'middle')
    .style('font-family', serif).style('font-size', '15px').attr('fill', '#000');
  svg.append('text').text('S2')
    .attr('x', x(p.s2)).attr('y', 62).attr('text-anchor', 'middle')
    .style('font-family', serif).style('font-size', '15px').attr('fill', '#000');

  const bottomText = (lines, xpos) => {
    const t = svg.append('text').attr('text-anchor', 'middle')
      .style('font-family', serif).style('font-size', '22px').attr('fill', '#000');
    lines.forEach((s, i) => t.append('tspan').attr('x', xpos).attr('y', 493 + i * 28).text(s));
  };
  bottomText(['cue', 'onset'], x(cueOnset));
  bottomText(['S2 period', 'onset'], x(p.s2));

  svg.append('text').text('Time (s)')
    .attr('x', x(1.4)).attr('y', 511).attr('text-anchor', 'middle')
    .style('font-family', serif).style('font-size', '29px').attr('fill', '#000');

  if (p.unitLabel) {
    svg.append('text').text('\u03bcV')
      .attr('x', 55).attr('y', 266).attr('text-anchor', 'middle')
      .style('font-family', serif).style('font-size', '26px').attr('fill', '#000');
  }
});
</script>
</body>
</html>
